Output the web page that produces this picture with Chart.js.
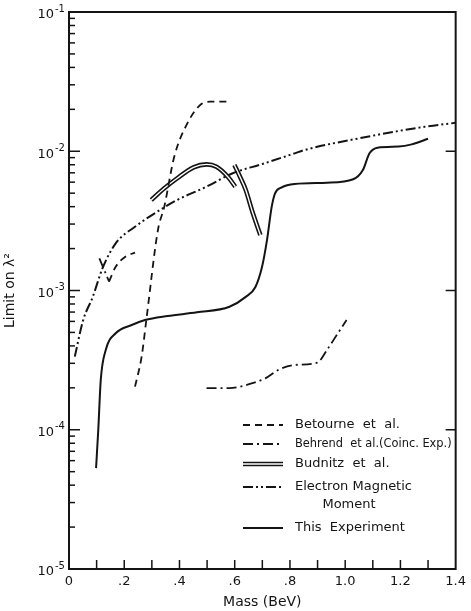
<!DOCTYPE html>
<html><head><meta charset="utf-8">
<script src="https://cdn.jsdelivr.net/npm/chart.js@4/dist/chart.umd.min.js"></script>
<style>html,body{margin:0;padding:0;background:#fff}canvas{display:block}</style>
</head><body>
<canvas id="c" width="471" height="611"></canvas>
<script>
// ---------- data ----------
const thisExpMass  = [0.098, 0.106, 0.115, 0.133, 0.169, 0.227, 0.275, 0.357, 0.463, 0.581, 0.640, 0.675, 0.699, 0.717, 0.734, 0.746, 0.770, 0.817, 0.934, 1.029, 1.064, 1.088, 1.117, 1.194, 1.241, 1.300];
const thisExpLimit = [5.3e-5, 1.0e-4, 2.28e-4, 3.74e-4, 4.93e-4, 5.65e-4, 6.14e-4, 6.56e-4, 6.97e-4, 7.65e-4, 9.0e-4, 1.06e-3, 1.48e-3, 2.31e-3, 4.0e-3, 4.99e-3, 5.5e-3, 5.82e-3, 5.94e-3, 6.29e-3, 7.33e-3, 9.66e-3, 1.06e-2, 1.08e-2, 1.12e-2, 1.23e-2];

const betourneLowMass   = [0.145, 0.169, 0.204, 0.239];
const betourneLowLimit  = [1.16e-3, 1.48e-3, 1.75e-3, 1.87e-3];
const betourneHighMass  = [0.239, 0.263, 0.280, 0.322, 0.345, 0.381, 0.428, 0.475, 0.510, 0.575];
const betourneHighLimit = [2.04e-4, 3.35e-4, 6.14e-4, 2.72e-3, 4.0e-3, 9.14e-3, 1.58e-2, 2.15e-2, 2.27e-2, 2.27e-2];

const behrendLowMass   = [0.110, 0.145];
const behrendLowLimit  = [1.70e-3, 1.16e-3];
const behrendHighMass  = [0.498, 0.581, 0.664, 0.711, 0.758, 0.817, 0.899, 0.934, 0.958, 1.005];
const behrendHighLimit = [1.99e-4, 1.99e-4, 2.16e-4, 2.34e-4, 2.69e-4, 2.92e-4, 3.03e-4, 3.74e-4, 4.42e-4, 6.14e-4];

const budnitzAMass  = [0.298, 0.345, 0.392, 0.451, 0.498, 0.534, 0.575, 0.602];
const budnitzALimit = [4.47e-3, 5.42e-3, 6.4e-3, 7.67e-3, 8.05e-3, 7.74e-3, 6.56e-3, 5.57e-3];
const budnitzBMass  = [0.599, 0.620, 0.640, 0.664, 0.693];
const budnitzBLimit = [7.96e-3, 6.5e-3, 5.27e-3, 3.68e-3, 2.5e-3];

const emmMass  = [0.021, 0.051, 0.086, 0.121, 0.169, 0.239, 0.339, 0.392, 0.498, 0.593, 0.700, 0.817, 0.852, 1.052, 1.288, 1.400];
const emmLimit = [3.35e-4, 6.1e-4, 9.0e-4, 1.44e-3, 2.18e-3, 2.87e-3, 3.89e-3, 4.47e-3, 5.57e-3, 6.95e-3, 8.1e-3, 9.66e-3, 1.02e-2, 1.24e-2, 1.50e-2, 1.60e-2];

const yMajorTicks = [1e-5, 1e-4, 1e-3, 1e-2, 1e-1];
const yMajorExps  = ['-5', '-4', '-3', '-2', '-1'];
const yMinorMultipliers = [2, 3, 4, 5, 6, 7, 8, 9];
const xTickValues = [0, 0.1, 0.2, 0.3, 0.4, 0.5, 0.6, 0.7, 0.8, 0.9, 1.0, 1.1, 1.2, 1.3, 1.4];
const xTickLabels = ['0', '', '.2', '', '.4', '', '.6', '', '.8', '', '1.0', '', '1.2', '', '1.4'];

const legendLabels = [['Betourne  et  al.'], ['Behrend  et al.(Coinc. Exp.)'], ['Budnitz  et  al.'], ['Electron Magnetic', 'Moment'], ['This  Experiment']];
const xTitle = 'Mass (BeV)';
const yTitle = 'Limit on λ²';

// ---------- styles ----------
const INK = '#141414';
const FONT = "'DejaVu Sans', sans-serif";
const styles = {
  betourne: { borderDash: [7, 5], borderWidth: 1.8 },
  behrend:  { borderDash: [10, 4, 2, 4], borderWidth: 1.8 },
  budnitz:  { borderWidth: 4.6 },
  budnitzInner: { borderWidth: 1.4 },
  emm:      { borderDash: [10, 3, 2, 3, 2, 3], borderWidth: 2 },
  thisExp:  { borderWidth: 2 }
};

const pts = (xs, ys) => xs.map((x, i) => ({ x: x, y: ys[i] }));
const line = (data, st, extra) => Object.assign({
  data: data, borderColor: INK, pointRadius: 0, fill: false,
  cubicInterpolationMode: 'monotone', borderCapStyle: 'butt', order: 0
}, st, extra || {});

const datasets = [
  line(pts(thisExpMass, thisExpLimit), styles.thisExp),
  line(pts(betourneLowMass, betourneLowLimit), styles.betourne),
  line(pts(betourneHighMass, betourneHighLimit), styles.betourne),
  line(pts(behrendLowMass, behrendLowLimit), styles.behrend, { cubicInterpolationMode: 'default', tension: 0 }),
  line(pts(behrendHighMass, behrendHighLimit), styles.behrend),
  line(pts(emmMass, emmLimit), styles.emm),
  line(pts(budnitzAMass, budnitzALimit), styles.budnitzInner, { borderColor: '#fff' }),
  line(pts(budnitzBMass, budnitzBLimit), styles.budnitzInner, { borderColor: '#fff' }),
  line(pts(budnitzAMass, budnitzALimit), styles.budnitz, { order: 1 }),
  line(pts(budnitzBMass, budnitzBLimit), styles.budnitz, { order: 1 })
];

const legendStyles = [styles.betourne, styles.behrend, 'double', styles.emm, styles.thisExp];

const decor = {
  id: 'decor',
  afterDraw(chart) {
    const ctx = chart.ctx, a = chart.chartArea;
    const xs = chart.scales.x, ys = chart.scales.y;
    ctx.save();
    ctx.strokeStyle = INK; ctx.fillStyle = INK;
    // frame
    ctx.lineWidth = 2;
    ctx.strokeRect(a.left, a.top, a.right - a.left, a.bottom - a.top);
    // y ticks (left, inward)
    ctx.lineWidth = 1.5;
    ys.ticks.forEach(t => {
      const py = ys.getPixelForValue(t.value);
      const major = yMajorTicks.some(m => Math.abs(m - t.value) / m < 1e-6);
      const len = major ? 11 : 6;
      ctx.beginPath(); ctx.moveTo(a.left, py); ctx.lineTo(a.left + len, py); ctx.stroke();
      if (major && t.value > 1.5e-5 && t.value < 0.05) {
        ctx.beginPath(); ctx.moveTo(a.right, py); ctx.lineTo(a.right - 10, py); ctx.stroke();
      }
    });
    // x ticks (bottom, inward)
    xs.ticks.forEach(t => {
      if (t.value <= 0 || t.value >= 1.4) return;
      const px = xs.getPixelForValue(t.value);
      ctx.beginPath(); ctx.moveTo(px, a.bottom); ctx.lineTo(px, a.bottom - 9); ctx.stroke();
    });
    // y tick labels with superscript exponent
    yMajorTicks.forEach((v, i) => {
      const py = ys.getPixelForValue(v);
      ctx.font = '13px ' + FONT; ctx.textAlign = 'right'; ctx.textBaseline = 'middle';
      ctx.fillText('10', 54, py + 3);
      ctx.font = '10px ' + FONT; ctx.textAlign = 'left';
      ctx.fillText(yMajorExps[i], 55, py - 3);
    });
    // legend
    const rowY = [425, 444, 464, 487, 528];
    const textX = 295, maxW = a.right - 4 - textX;
    legendStyles.forEach((st, i) => {
      const y = rowY[i];
      ctx.beginPath(); ctx.moveTo(243, y); ctx.lineTo(283, y);
      if (st === 'double') {
        ctx.setLineDash([]); ctx.lineWidth = styles.budnitz.borderWidth; ctx.strokeStyle = INK; ctx.stroke();
        ctx.lineWidth = styles.budnitzInner.borderWidth; ctx.strokeStyle = '#fff'; ctx.stroke();
        ctx.strokeStyle = INK;
      } else {
        ctx.setLineDash(st.borderDash || []); ctx.lineWidth = st.borderWidth; ctx.stroke();
      }
      ctx.setLineDash([]);
      const lab = legendLabels[i];
      ctx.font = '13px ' + FONT;
      ctx.textBaseline = 'middle';
      ctx.textAlign = 'left';
      ctx.fillText(lab[0], textX, y, maxW);
      if (lab.length > 1) { ctx.textAlign = 'center'; ctx.fillText(lab[1], 349, y + 18); }
    });
    ctx.restore();
  }
};

new Chart(document.getElementById('c'), {
  type: 'line',
  data: { datasets: datasets },
  plugins: [decor],
  options: {
    responsive: false, animation: false,
    layout: { padding: { top: 12, right: 6, left: 0, bottom: 0 } },
    plugins: { legend: { display: false }, tooltip: { enabled: false } },
    scales: {
      x: {
        type: 'linear', min: 0, max: 1.4,
        afterBuildTicks: s => { s.ticks = xTickValues.map(v => ({ value: v })); },
        afterFit: s => { s.height = 42; },
        grid: { display: false, drawTicks: false }, border: { display: false },
        ticks: { autoSkip: false, maxRotation: 0, padding: 5, color: INK,
                 font: { family: FONT, size: 13 },
                 callback: (v, i) => xTickLabels[i] },
        title: { display: true, text: xTitle, color: INK, font: { family: FONT, size: 14 }, padding: { top: 0, bottom: 0 } }
      },
      y: {
        type: 'logarithmic', min: 1e-5, max: 1e-1,
        afterBuildTicks: s => {
          const t = [];
          yMajorTicks.forEach(m => { t.push({ value: m }); if (m < 0.1) yMinorMultipliers.forEach(k => t.push({ value: m * k })); });
          s.ticks = t;
        },
        afterFit: s => { s.width = 69; },
        grid: { display: false, drawTicks: false }, border: { display: false },
        ticks: { display: false },
        title: { display: true, text: yTitle, color: INK, font: { family: FONT, size: 14 }, padding: { top: 2, bottom: 0 } }
      }
    }
  }
});
</script>
</body></html>
